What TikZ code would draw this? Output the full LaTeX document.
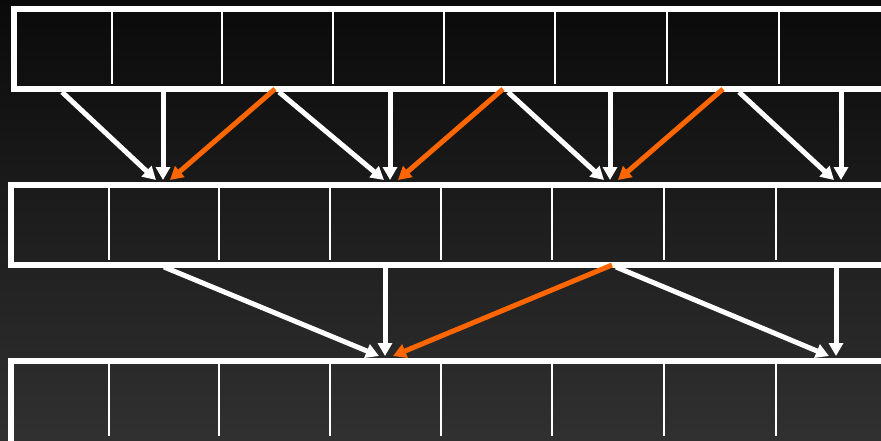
\documentclass[tikz,border=0pt]{standalone}
\usetikzlibrary{arrows.meta}
\definecolor{hot}{HTML}{FF6600}
\tikzset{
  frame/.style={draw=white, line width=6pt},
  divider/.style={draw=white, line width=2.4pt},
  flow/.style={draw=white, line width=5pt, -{Triangle[width=14pt,length=13pt]}},
  hotflow/.style={flow, draw=hot, -{Triangle[width=14pt,length=13pt,fill=hot]}},
}
\begin{document}
\begin{tikzpicture}[x=1pt, y=-1pt]
  \useasboundingbox (0,0) rectangle (881,440);
  \clip (0,0) rectangle (881,440);
  % dark vertical gradient behind everything
  \shade[top color=black!96, bottom color=black!81] (0,0) rectangle (881,440);

  % three rows of eight cells
  \draw[frame] (14,9) rectangle (905,89);
  \foreach \x in {112,222,333,444,555,667,779}
    \draw[divider] (\x,12) -- (\x,84);
  \draw[frame] (11,185) rectangle (902,265);
  \foreach \x in {109,219,330,441,552,664,776}
    \draw[divider] (\x,188) -- (\x,260);
  \draw[frame] (11,361) rectangle (902,452);
  \foreach \x in {109,219,330,441,552,664,776}
    \draw[divider] (\x,364) -- (\x,436);

  % first stage: sources on row 1, targets on row 2
  \coordinate (a1) at (62,92);   \coordinate (a2) at (163,92);  \coordinate (a3) at (275,89);
  \coordinate (b1) at (279,92);  \coordinate (b2) at (390,92);  \coordinate (b3) at (503,89);
  \coordinate (c1) at (508,92);  \coordinate (c2) at (610,92);  \coordinate (c3) at (723,89);
  \coordinate (d1) at (739,92);  \coordinate (d2) at (841,92);
  \coordinate (ta1) at (156,180); \coordinate (ta2) at (163,180); \coordinate (ta3) at (170,180);
  \coordinate (tb1) at (384,180); \coordinate (tb2) at (390,180); \coordinate (tb3) at (398,180);
  \coordinate (tc1) at (604,180); \coordinate (tc2) at (610,180); \coordinate (tc3) at (618,180);
  \coordinate (td1) at (834,180); \coordinate (td2) at (841,180);

  \draw[flow] (a1) -- (ta1);  \draw[flow] (a2) -- (ta2);  \draw[hotflow] (a3) -- (ta3);
  \draw[flow] (b1) -- (tb1);  \draw[flow] (b2) -- (tb2);  \draw[hotflow] (b3) -- (tb3);
  \draw[flow] (c1) -- (tc1);  \draw[flow] (c2) -- (tc2);  \draw[hotflow] (c3) -- (tc3);
  \draw[flow] (d1) -- (td1);  \draw[flow] (d2) -- (td2);

  % second stage: sources on row 2, targets on row 3
  \coordinate (e1) at (164,267); \coordinate (e2) at (385,268); \coordinate (e3) at (612,265);
  \coordinate (f1) at (616,267); \coordinate (f2) at (836,268);
  \coordinate (te1) at (379,356); \coordinate (te2) at (385,356); \coordinate (te3) at (393,356);
  \coordinate (tf1) at (829,356); \coordinate (tf2) at (836,356);

  \draw[flow] (e1) -- (te1);  \draw[flow] (e2) -- (te2);  \draw[hotflow] (e3) -- (te3);
  \draw[flow] (f1) -- (tf1);  \draw[flow] (f2) -- (tf2);
\end{tikzpicture}
\end{document}
